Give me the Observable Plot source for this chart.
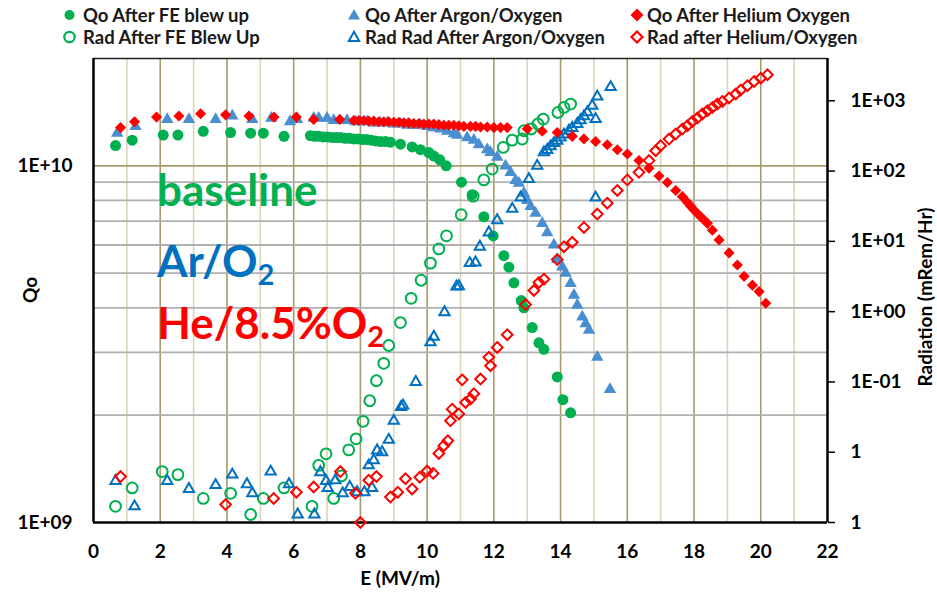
<!DOCTYPE html>
<html><head><meta charset="utf-8">
<script src="https://cdn.jsdelivr.net/npm/d3@7"></script>
<script src="https://cdn.jsdelivr.net/npm/@observablehq/plot@0.6"></script>
<style>
body{margin:0;background:#fff;}
#wrap{position:relative;width:937px;height:598px;font-family:Lato,"Open Sans",sans-serif;}
#overlay{position:absolute;left:0;top:0;pointer-events:none;}
</style></head><body><div id="wrap"></div>
<script>
// ---- data: [E (MV/m), value] ----
const qoFE = [[0.66,1.14e10],[1.16,1.18e10],[2.09,1.22e10],[2.53,1.22e10],[3.29,1.25e10],[4.11,1.24e10],[4.71,1.235e10],[5.09,1.235e10],[5.71,1.21e10],
[6.5,1.215e10],[6.63,1.21e10],[6.76,1.21e10],[6.89,1.205e10],[7.02,1.205e10],[7.15,1.2e10],[7.28,1.2e10],[7.41,1.2e10],[7.54,1.195e10],[7.67,1.195e10],[7.8,1.19e10],[7.93,1.19e10],[8.06,1.185e10],[8.19,1.185e10],[8.32,1.18e10],[8.45,1.175e10],[8.6,1.17e10],[8.75,1.17e10],[8.9,1.165e10],[9.2,1.15e10],[9.55,1.13e10],[9.8,1.11e10],[10.05,1.09e10],[10.2,1.065e10],[10.38,1.04e10],[10.57,1.0e10],[11.03,9.0e9],[11.35,8.3e9],[11.7,7.2e9],[11.98,6.36e9],[12.3,5.6e9],[12.45,5.2e9],[12.6,4.7e9],[12.82,4.19e9],[12.9,4.0e9],[13.15,3.52e9],[13.35,3.19e9],[13.5,3.06e9],[13.9,2.56e9],[14.07,2.21e9],[14.3,2.03e9]];
const radFE = [[0.66,0.0017],[1.16,0.0031],[2.06,0.0053],[2.53,0.0048],[3.29,0.0022],[4.11,0.0026],[4.71,0.0013],[5.09,0.0022],[5.71,0.0031],[6.55,0.0017],[6.75,0.0065],[6.97,0.0095],[7.2,0.0022],[7.43,0.0046],[7.65,0.0108],[7.87,0.0155],[8.08,0.0275],[8.28,0.054],[8.48,0.104],[8.7,0.184],[8.85,0.33],[9.2,0.70],[9.52,1.55],[9.82,2.8],[10.1,4.9],[10.35,7.8],[10.58,12.0],[11.02,24.0],[11.38,44],[11.7,75],[11.95,107],[12.28,217],[12.55,276],[12.85,286],[12.9,375],[13.12,397],[13.32,468],[13.48,550],[13.92,684],[14.1,805],[14.3,900]];
const qoAr = [[0.71,1.235e10],[1.26,1.29e10],[2.21,1.35e10],[2.86,1.35e10],[3.66,1.35e10],[4.16,1.38e10],[4.76,1.35e10],[5.33,1.36e10],[5.89,1.33e10],[6.1,1.35e10],[6.6,1.36e10],[6.75,1.36e10],[7.0,1.36e10],[7.2,1.34e10],[7.6,1.34e10],[7.85,1.33e10],[8.0,1.33e10],[8.2,1.33e10],[8.4,1.32e10],[8.6,1.32e10],[8.8,1.32e10],[9.0,1.31e10],[9.2,1.31e10],[9.4,1.3e10],[9.6,1.3e10],[9.8,1.3e10],[10.0,1.29e10],[10.2,1.28e10],[10.4,1.27e10],[10.6,1.25e10],[10.8,1.23e10],[10.9,1.22e10],[11.2,1.2e10],[11.4,1.18e10],[11.55,1.146e10],[11.8,1.11e10],[11.9,1.09e10],[12.1,1.057e10],[12.35,1.0e10],[12.5,9.58e9],[12.65,9.1e9],[12.75,8.94e9],[12.9,8.38e9],[13.0,8.0e9],[13.1,7.69e9],[13.25,7.37e9],[13.45,6.9e9],[13.6,6.5e9],[13.8,6.0e9],[13.9,5.47e9],[14.05,5.21e9],[14.15,5.0e9],[14.3,4.68e9],[14.4,4.34e9],[14.5,4.07e9],[14.65,3.77e9],[14.75,3.61e9],[14.85,3.46e9],[15.1,2.91e9],[15.48,2.36e9]];
const radAr = [[0.66,0.0039],[1.23,0.0017],[2.21,0.0039],[2.86,0.0030],[3.66,0.0034],[4.16,0.0048],[4.6,0.0035],[4.76,0.0026],[5.31,0.0053],[5.86,0.0035],[6.12,0.0013],[6.62,0.0013],[6.8,0.0052],[6.97,0.0039],[7.02,0.0031],[7.25,0.004],[7.47,0.0026],[7.68,0.0032],[7.9,0.0027],[8.12,0.0027],[8.25,0.0065],[8.35,0.0031],[8.4,0.0077],[8.5,0.0106],[8.65,0.01],[8.85,0.015],[9.0,0.028],[9.22,0.044],[9.28,0.046],[9.66,0.10],[10.1,0.366],[10.2,0.44],[10.52,0.98],[10.88,2.27],[10.95,2.3],[11.28,4.9],[11.45,5.0],[11.58,8.4],[11.85,13.4],[12.1,20],[12.55,29],[12.8,42],[13.05,77],[13.3,119],[13.5,185],[13.6,200],[13.7,225],[13.8,250],[13.9,270],[14.0,300],[14.1,330],[14.25,375],[14.35,410],[14.5,468],[14.6,530],[14.7,600],[14.8,684],[14.95,850],[15.05,550],[15.05,42],[15.1,1150],[15.5,1570]];
const qoHe = [[0.81,1.28e10],[1.23,1.33e10],[1.89,1.37e10],[2.56,1.38e10],[3.21,1.40e10],[3.96,1.39e10],[4.66,1.38e10],[5.41,1.37e10],[6.08,1.37e10],[6.6,1.35e10],[7.38,1.35e10],[7.8,1.34e10],[7.95,1.34e10],[8.1,1.34e10],[8.25,1.335e10],[8.4,1.335e10],[8.55,1.33e10],[8.7,1.33e10],[8.85,1.33e10],[9.0,1.325e10],[9.15,1.325e10],[9.3,1.32e10],[9.45,1.32e10],[9.6,1.315e10],[9.75,1.315e10],[9.9,1.31e10],[10.05,1.31e10],[10.2,1.31e10],[10.35,1.305e10],[10.5,1.3e10],[10.65,1.3e10],[10.8,1.3e10],[10.95,1.295e10],[11.1,1.29e10],[11.3,1.29e10],[11.45,1.29e10],[11.6,1.285e10],[11.8,1.285e10],[12.0,1.28e10],[12.2,1.28e10],[12.4,1.28e10],[13.0,1.27e10],[13.45,1.25e10],[13.9,1.24e10],[14.35,1.21e10],[14.7,1.19e10],[15.05,1.17e10],[15.4,1.146e10],[15.7,1.11e10],[16.0,1.08e10],[16.35,1.035e10],[16.65,0.985e10],[16.95,9.37e9],[17.2,8.98e9],[17.45,8.53e9],[17.65,8.2e9],[17.8,7.9e9],[17.9,7.7e9],[18.0,7.52e9],[18.1,7.35e9],[18.2,7.2e9],[18.3,7.05e9],[18.4,6.9e9],[18.55,6.6e9],[18.75,6.2e9],[19.05,5.7e9],[19.3,5.27e9],[19.5,4.9e9],[19.75,4.63e9],[19.95,4.44e9],[20.15,4.12e9]];
const radHe = [[0.81,0.0045],[3.96,0.0018],[5.4,0.0022],[6.08,0.0027],[6.6,0.0032],[7.4,0.0053],[7.85,0.0026],[8.0,0.001],[8.25,0.0040],[8.48,0.0045],[8.9,0.0023],[9.12,0.0027],[9.35,0.0042],[9.55,0.003],[9.78,0.0044],[10.0,0.0054],[10.18,0.005],[10.35,0.0096],[10.5,0.0124],[10.62,0.0146],[10.7,0.028],[10.75,0.041],[10.95,0.035],[11.05,0.107],[11.15,0.051],[11.3,0.057],[11.4,0.068],[11.6,0.11],[11.85,0.224],[11.9,0.17],[12.1,0.31],[12.4,0.47],[12.95,1.26],[13.2,2.0],[13.35,2.6],[13.5,2.9],[13.9,5.5],[14.1,8.4],[14.35,9.7],[14.7,15.8],[15.1,24.5],[15.4,35],[15.7,53],[16.0,75],[16.35,96],[16.65,141],[16.85,195],[17.0,230],[17.25,286],[17.45,337],[17.65,397],[17.8,442],[17.95,509],[18.1,569],[18.25,649],[18.4,723],[18.55,805],[18.7,900],[18.85,980],[19.05,1097],[19.25,1250],[19.4,1425],[19.6,1640],[19.8,1890],[20.0,2100],[20.2,2350]];

// ---- axes / ticks ----
const xDomain = [0, 22];
const xTicks = [0,2,4,6,8,10,12,14,16,18,20,22];
const xMajorGrid = [2,4,6,8,10,12,14,16,18,20];
const xMinorGrid = [1,3,5,7,9,11,13,15,17,19,21];
const qoDomain = [1e9, 2e10];
const qoTicks = [1e9, 1e10];
const qoTickLabels = ["1E+09", "1E+10"];
const qoMinorGrid = [2e9,3e9,4e9,5e9,6e9,7e9,8e9,9e9];
const qoMajorGrid = [1e10];
const radDomain = [1e-3, 4e3];
const radTicks = [1e3, 1e2, 1e1, 1e0, 1e-1, 1e-2, 1e-3];
const radTickLabels = ["1E+03","1E+02","1E+01","1E+00","1E-01","1","1"];

const legendItems = [
  {label:"Qo After FE blew up", col:0, row:0, sym:"circle", fill:true, color:"#00B050"},
  {label:"Rad After FE Blew Up", col:0, row:1, sym:"circle", fill:false, color:"#00B050"},
  {label:"Qo After Argon/Oxygen", col:1, row:0, sym:"triangle", fill:true, color:"#4A8ED2"},
  {label:"Rad Rad After Argon/Oxygen", col:1, row:1, sym:"triangle", fill:false, color:"#0070C0"},
  {label:"Qo After Helium Oxygen", col:2, row:0, sym:"diamond", fill:true, color:"#FF0000"},
  {label:"Rad after Helium/Oxygen", col:2, row:1, sym:"diamond", fill:false, color:"#FF0000"}
];

// map the right (radiation) log axis onto the left (Qo) log scale
const L = Math.log10;
function radToQo(r) {
  const t = (L(r) - L(radDomain[0])) / (L(radDomain[1]) - L(radDomain[0]));
  return 10 ** (L(qoDomain[0]) + t * (L(qoDomain[1]) - L(qoDomain[0])));
}
const radTickPos = radTicks.map(radToQo);
const radLabelMap = new Map(radTickPos.map((v, i) => [v, radTickLabels[i]]));
const qoLabelMap = new Map(qoTicks.map((v, i) => [v, qoTickLabels[i]]));

const GREEN = "#00B050", BLUE_F = "#4A8ED2", BLUE_O = "#0070C0", RED = "#FF0000";
const fx = d => d[0], fy = d => d[1], fr = d => radToQo(d[1]);
const FS = 19;

const chart = Plot.plot({
  width: 937, height: 598,
  marginTop: 58, marginBottom: 76, marginLeft: 93, marginRight: 110,
  style: {fontFamily: "Lato, 'Open Sans', sans-serif", fontSize: FS + "px", fontWeight: "bold", color: "#000", background: "#fff", overflow: "visible"},
  x: {domain: xDomain},
  y: {type: "log", domain: qoDomain},
  marks: [
    Plot.ruleX(xMinorGrid, {stroke: "#DCD4B6", strokeWidth: 1.6}),
    Plot.ruleX(xMajorGrid, {stroke: "#A79B6A", strokeWidth: 1.6}),
    Plot.ruleY(qoMinorGrid, {stroke: "#B0B0B0", strokeWidth: 1.8}),
    Plot.ruleY(qoMajorGrid, {stroke: "#A79B6A", strokeWidth: 1.8}),
    Plot.axisX({ticks: xTicks, tickSize: 0, tickPadding: 22, label: null, fontSize: FS, fontWeight: "bold"}),
    Plot.axisY({ticks: qoTicks, tickFormat: d => qoLabelMap.get(d), tickSize: 0, tickPadding: 21, label: null, fontSize: FS, fontWeight: "bold"}),
    Plot.axisY({anchor: "right", ticks: radTickPos, tickFormat: d => radLabelMap.get(d), tickSize: 7, tickPadding: 16, strokeWidth: 1.5, label: null, fontSize: FS, fontWeight: "bold"}),
    Plot.ruleY([qoDomain[1]], {stroke: "#222", strokeWidth: 1.5}),
    Plot.ruleX([xDomain[0]], {stroke: "#000", strokeWidth: 2.5}),
    Plot.ruleX([xDomain[1]], {stroke: "#000", strokeWidth: 2.5}),
    Plot.ruleY([qoDomain[0]], {stroke: "#000", strokeWidth: 2.5}),
    // baseline
    Plot.dot(qoFE, {x: fx, y: fy, symbol: "circle", r: 5.5, fill: GREEN}),
    Plot.dot(radFE, {x: fx, y: fr, symbol: "circle", r: 5.4, fill: "none", stroke: GREEN, strokeWidth: 2}),
    // argon / oxygen
    Plot.dot(qoAr, {x: fx, y: fy, symbol: "triangle", r: 4.6, fill: BLUE_F}),
    Plot.dot(radAr, {x: fx, y: fr, symbol: "triangle", r: 3.8, fill: "none", stroke: BLUE_O, strokeWidth: 2}),
    // helium / oxygen
    Plot.dot(qoHe, {x: fx, y: fy, symbol: "diamond2", r: 5, fill: RED}),
    Plot.dot(radHe, {x: fx, y: fr, symbol: "diamond2", r: 4.8, fill: "none", stroke: RED, strokeWidth: 2})
  ]
});

const wrap = document.getElementById("wrap");
wrap.appendChild(chart);

// overlay: legend, titles, annotations
const ns = "http://www.w3.org/2000/svg";
const ov = document.createElementNS(ns, "svg");
ov.setAttribute("id", "overlay");
ov.setAttribute("width", 937); ov.setAttribute("height", 598);
ov.setAttribute("font-family", "Lato, 'Open Sans', sans-serif");
ov.setAttribute("font-weight", "bold");
wrap.appendChild(ov);
function el(tag, attrs, text) {
  const e = document.createElementNS(ns, tag);
  for (const k in attrs) e.setAttribute(k, attrs[k]);
  if (text != null) e.textContent = text;
  ov.appendChild(e);
  return e;
}
const colMarker = [69.5, 354, 637], colText = [83, 365, 647], rowY = [15, 37];
for (const it of legendItems) {
  const cx = colMarker[it.col], cy = rowY[it.row];
  const fill = it.fill ? it.color : "none", stroke = it.fill ? "none" : it.color;
  if (it.sym === "circle") el("circle", {cx, cy, r: it.fill ? 5 : 5.2, fill, stroke, "stroke-width": 2.2});
  else if (it.sym === "triangle") { const s = it.fill ? 6 : 5.2; el("path", {d: `M${cx},${cy - s}L${cx + s},${cy + s * 0.75}L${cx - s},${cy + s * 0.75}Z`, fill, stroke, "stroke-width": 2}); }
  else { const s = it.fill ? 6.5 : 5.5; el("path", {d: `M${cx},${cy - s}L${cx + s},${cy}L${cx},${cy + s}L${cx - s},${cy}Z`, fill, stroke, "stroke-width": 2.2}); }
  el("text", {x: colText[it.col], y: cy + 6.8, "font-size": 18.5, fill: "#1a1a1a"}, it.label);
}
el("text", {x: 400, y: 585, "text-anchor": "middle", "font-size": 19}, "E (MV/m)");
el("text", {transform: "translate(37,290) rotate(-90)", "text-anchor": "middle", "font-size": 19}, "Qo");
el("text", {transform: "translate(932,297) rotate(-90)", "text-anchor": "middle", "font-size": 19}, "Radiation (mRem/Hr)");
el("text", {x: 157, y: 206, "font-size": 44, fill: GREEN}, "baseline");
const t2 = el("text", {x: 157, y: 277, "font-size": 44, fill: BLUE_O}, "Ar/O");
const s2 = document.createElementNS(ns, "tspan"); s2.setAttribute("font-size", 29); s2.setAttribute("dy", 8); s2.textContent = "2"; t2.appendChild(s2);
const t3 = el("text", {x: 157, y: 339, "font-size": 44, fill: RED}, "He/8.5%O");
const s3 = document.createElementNS(ns, "tspan"); s3.setAttribute("font-size", 29); s3.setAttribute("dy", 8); s3.textContent = "2"; t3.appendChild(s3);
</script>
</body></html>
